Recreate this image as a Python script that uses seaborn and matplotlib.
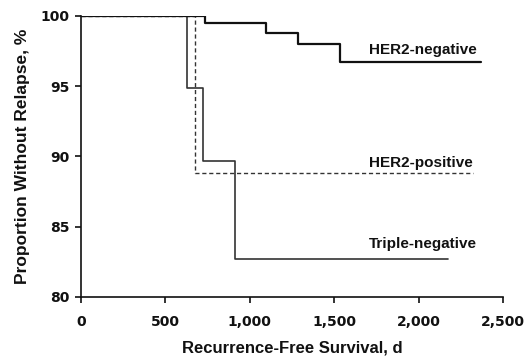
import matplotlib
matplotlib.use("Agg")
import matplotlib.pyplot as plt
import seaborn as sns
import pandas as pd

sns.set_theme(style="ticks")
plt.rcParams['font.family'] = ['Liberation Sans', 'DejaVu Sans']

# Kaplan-Meier step data (days, % without relapse)
her2neg_days = [0, 736, 1095, 1284, 1536, 2369]
her2neg_pct = [100, 99.5, 98.8, 98.0, 96.7, 96.7]
her2pos_days = [0, 677, 2321]
her2pos_pct = [100, 88.8, 88.8]
triple_days = [0, 629, 722, 911, 2173]
triple_pct = [100, 94.9, 89.7, 82.7, 82.7]

series_names = ["HER2-negative", "HER2-positive", "Triple-negative"]
x_ticks = [0, 500, 1000, 1500, 2000, 2500]
x_tick_labels = ["0", "500", "1,000", "1,500", "2,000", "2,500"]
y_ticks = [80, 85, 90, 95, 100]

fig = plt.figure(figsize=(5.27, 3.6), dpi=100)
ax = fig.add_axes([0.1537, 0.1750, 0.8008, 0.7806])

df_neg = pd.DataFrame({"d": her2neg_days, "p": her2neg_pct})
df_pos = pd.DataFrame({"d": her2pos_days, "p": her2pos_pct})
df_tri = pd.DataFrame({"d": triple_days, "p": triple_pct})

sns.lineplot(data=df_tri, x="d", y="p", ax=ax, drawstyle="steps-post",
             estimator=None, color="#333333", linewidth=1.2)
sns.lineplot(data=df_pos, x="d", y="p", ax=ax, drawstyle="steps-post",
             estimator=None, color="#333333", linewidth=1.0, linestyle=(0, (3, 2)))
sns.lineplot(data=df_neg, x="d", y="p", ax=ax, drawstyle="steps-post",
             estimator=None, color="#111111", linewidth=1.6)

ax.set_xlim(0, 2500)
ax.set_ylim(80, 100)
ax.set_xticks(x_ticks)
ax.set_xticklabels(x_tick_labels)
ax.set_yticks(y_ticks)

for s in ["top", "right"]:
    ax.spines[s].set_visible(False)
for s in ["left", "bottom"]:
    ax.spines[s].set_color("#111111")
    ax.spines[s].set_linewidth(1.2)

ax.tick_params(axis="both", which="major", bottom=True, left=True,
               direction="out", length=4, width=1.2, color="#111111",
               labelsize=10, labelcolor="#111111")
ax.tick_params(axis="x", pad=9)
ax.tick_params(axis="y", pad=4)
for lab in ax.get_xticklabels() + ax.get_yticklabels():
    lab.set_fontweight("bold")
    lab.set_family(["DejaVu Sans"])

ax.set_xlabel("Recurrence-Free Survival, d", fontsize=12, fontweight="bold",
              color="#111111", labelpad=8)
ax.set_ylabel("Proportion Without Relapse, %", fontsize=12.5, fontweight="bold",
              color="#111111", labelpad=8)

label_y = [97.57, 89.57, 83.79]
for name, yv in zip(series_names, label_y):
    ax.text(1708, yv, name, fontsize=11, fontweight="bold", color="#111111",
            ha="left", va="center")

fig.savefig("out.png", dpi=100)
